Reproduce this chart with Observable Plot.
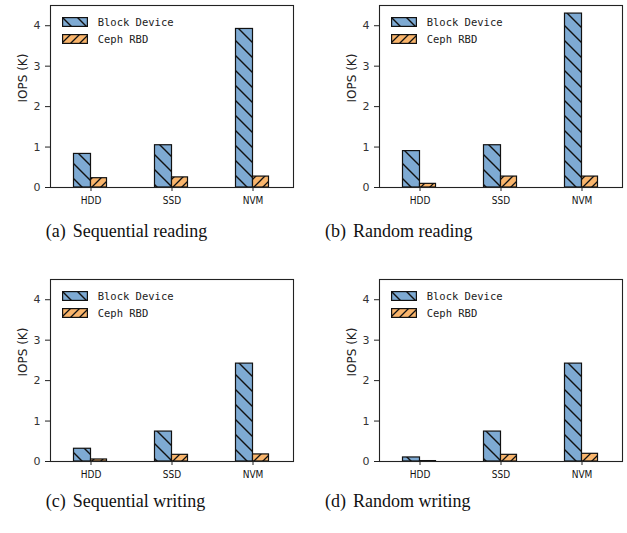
<!DOCTYPE html>
<html>
<head>
<meta charset="utf-8">
<script src="https://cdn.jsdelivr.net/npm/d3@7"></script>
<script src="https://cdn.jsdelivr.net/npm/@observablehq/plot@0.6"></script>
<style>
  body { margin: 0; background: #fff; }
  #root { position: relative; width: 627px; height: 533px; overflow: hidden; background: #fff; }
  .panel { position: absolute; }
  .legend { position: absolute; font-family: "DejaVu Sans Mono", monospace; font-size: 10.5px; color: #222; }
  .legend .row { display: flex; align-items: center; height: 10px; margin-bottom: 7px; }
  .legend svg { display: block; margin-right: 10px; }
  .caption { position: absolute; font-family: "Liberation Serif", "Times New Roman", serif; font-size: 18px; line-height: 18px; color: #111; white-space: nowrap; }
  .caption .lab { margin-right: 7px; }
</style>
</head>
<body>
<svg width="0" height="0" style="position:absolute">
  <defs>
    <pattern id="hatchBlue" patternUnits="userSpaceOnUse" width="15" height="15">
      <rect width="15" height="15" fill="#7eaad3"></rect>
      <path d="M0,0L15,15M-2,13L2,17M13,-2L17,2" stroke="#111" stroke-width="1.4"></path>
    </pattern>
    <pattern id="hatchOrange" patternUnits="userSpaceOnUse" width="9" height="9">
      <rect width="9" height="9" fill="#f9b56c"></rect>
      <path d="M0,9L9,0M-2,2L2,-2M7,11L11,7" stroke="#111" stroke-width="1.3"></path>
    </pattern>
  </defs>
</svg>
<div id="root"></div>
<script>
const categories = ["HDD", "SSD", "NVM"];
const seriesNames = ["Block Device", "Ceph RBD"];
const captionLabels = ["(a)", "(b)", "(c)", "(d)"];
const captionTexts = ["Sequential reading", "Random reading", "Sequential writing", "Random writing"];
const yTicks = [0, 1, 2, 3, 4];
const yMax = 4.5;
const yLabel = "IOPS (K)";

const seqReadBlock = [0.83, 1.045, 3.92];
const seqReadCeph = [0.23, 0.25, 0.27];
const randReadBlock = [0.90, 1.045, 4.30];
const randReadCeph = [0.09, 0.27, 0.27];
const seqWriteBlock = [0.315, 0.74, 2.42];
const seqWriteCeph = [0.05, 0.165, 0.175];
const randWriteBlock = [0.10, 0.74, 2.42];
const randWriteCeph = [0.01, 0.165, 0.19];

const panelSeries = [
  [seqReadBlock, seqReadCeph],
  [randReadBlock, randReadCeph],
  [seqWriteBlock, seqWriteCeph],
  [randWriteBlock, randWriteCeph]
];
const fills = ["url(#hatchBlue)", "url(#hatchOrange)"];

const layout = [
  {left: 0, top: 0, capLeft: 45.7, capTop: 222},
  {left: 329, top: 0, capLeft: 325, capTop: 222},
  {left: 0, top: 274, capLeft: 45.7, capTop: 492},
  {left: 329, top: 274, capLeft: 325, capTop: 492}
];

const root = document.getElementById("root");
const mL = 50, mR = 7, mT = 5, mB = 25, W = 300, H = 212;
const bandW = (W - mL - mR) / categories.length;
const barW = 17;

panelSeries.forEach((pair, i) => {
  const rows = [];
  pair.forEach((vals, s) => vals.forEach((v, k) => rows.push({cat: categories[k], series: seriesNames[s], value: v})));
  const chart = Plot.plot({
    width: W, height: H,
    marginLeft: mL, marginRight: mR, marginTop: mT, marginBottom: mB,
    style: {fontFamily: "DejaVu Sans, sans-serif", background: "transparent"},
    x: {domain: categories, padding: 0},
    y: {domain: [0, yMax]},
    marks: [
      Plot.barY(rows.filter(d => d.series === seriesNames[0]), {
        x: "cat", y: "value", fill: fills[0], stroke: "#111", strokeWidth: 1.2,
        insetLeft: bandW / 2 - barW, insetRight: bandW / 2
      }),
      Plot.barY(rows.filter(d => d.series === seriesNames[1]), {
        x: "cat", y: "value", fill: fills[1], stroke: "#111", strokeWidth: 1.2,
        insetLeft: bandW / 2, insetRight: bandW / 2 - barW + 1
      }),
      Plot.frame({stroke: "#222", strokeWidth: 1.1}),
      Plot.axisX({tickSize: 4, tickPadding: 5, label: null, fontFamily: "Liberation Sans Narrow, DejaVu Sans Condensed, sans-serif", fontSize: 10, fill: "#111", stroke: "#222"}),
      Plot.axisY({ticks: yTicks, tickFormat: d => String(d), tickSize: 5, tickPadding: 5, label: null, fontSize: 11, fill: "#333", stroke: "#222"}),
      Plot.text([yLabel], {text: d => d, frameAnchor: "left", dx: -27, dy: 6, rotate: -90, fontSize: 12, fill: "#222"})
    ]
  });
  chart.classList.add("panel");
  chart.style.left = layout[i].left + "px";
  chart.style.top = layout[i].top + "px";
  root.appendChild(chart);

  const leg = document.createElement("div");
  leg.className = "legend";
  leg.style.left = (layout[i].left + mL + 11.7) + "px";
  leg.style.top = (layout[i].top + mT + 12.3) + "px";
  seriesNames.forEach((name, s) => {
    const row = document.createElement("div");
    row.className = "row";
    row.innerHTML = `<svg width="26" height="10"><rect x="0.6" y="0.6" width="24.8" height="8.8" fill="${fills[s]}" stroke="#111" stroke-width="1.2"></rect></svg><span>${name}</span>`;
    leg.appendChild(row);
  });
  root.appendChild(leg);

  const cap = document.createElement("div");
  cap.className = "caption";
  cap.style.left = layout[i].capLeft + "px";
  cap.style.top = layout[i].capTop + "px";
  cap.innerHTML = `<span class="lab">${captionLabels[i]}</span><span>${captionTexts[i]}</span>`;
  root.appendChild(cap);
});
</script>
</body>
</html>
